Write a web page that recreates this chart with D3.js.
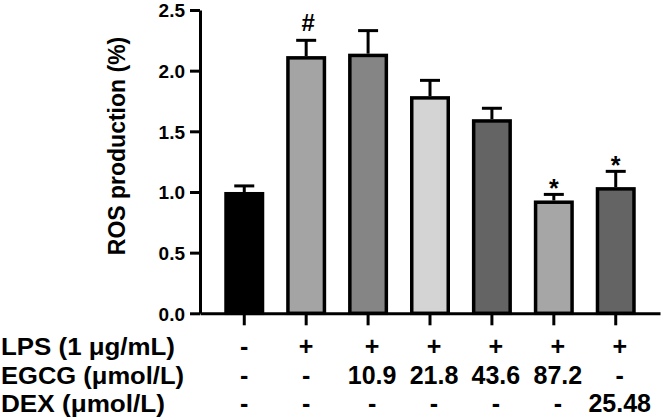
<!DOCTYPE html>
<html><head><meta charset="utf-8">
<script src="https://cdn.jsdelivr.net/npm/d3@7"></script>
<style>
body{margin:0;background:#fff;}
text{font-family:"Liberation Sans",Arial,sans-serif;font-weight:bold;fill:#000;}
</style></head>
<body><svg id="c" width="661" height="420"></svg>
<script>
const groups = ["ctrl","LPS","E10.9","E21.8","E43.6","E87.2","DEX"];
const means = [1.00, 2.12, 2.14, 1.79, 1.60, 0.93, 1.04];
const errors = [0.05, 0.13, 0.19, 0.13, 0.09, 0.05, 0.13];
const fills = ["#000000","#a4a4a4","#858585","#d4d4d4","#646464","#a6a6a6","#646464"];
const marks = ["", "#", "", "", "", "*", "*"];
const yTicks = [0, 0.5, 1.0, 1.5, 2.0, 2.5];
const rowLabels = ["LPS (1 μg/mL)", "EGCG (μmol/L)", "DEX (μmol/L)"];
const rowLPS = ["-","+","+","+","+","+","+"];
const rowEGCG = ["-","-","10.9","21.8","43.6","87.2","-"];
const rowDEX = ["-","-","-","-","-","-","25.48"];

const svg = d3.select("#c");
const x = d3.scaleBand().domain(groups).range([200,660]).paddingInner(0.354).paddingOuter(0.392);
const y = d3.scaleLinear().domain([0,2.5]).range([313.3,10]);
const sw = 3.5;

// bars
svg.selectAll("rect.bar").data(groups).enter().append("rect")
  .attr("x", d=>x(d)+sw/2)
  .attr("y", (d,i)=>y(means[i])+sw/2)
  .attr("width", x.bandwidth()-sw)
  .attr("height", (d,i)=>y(0)-y(means[i])-sw/2)
  .attr("fill",(d,i)=>fills[i]).attr("stroke","#000").attr("stroke-width",sw);

// error bars
groups.forEach((g,i)=>{
  const cx = x(g)+x.bandwidth()/2;
  const top = y(means[i]+errors[i]);
  svg.append("line").attr("x1",cx).attr("x2",cx).attr("y1",y(means[i])).attr("y2",top)
    .attr("stroke","#000").attr("stroke-width",3);
  svg.append("line").attr("x1",cx-10).attr("x2",cx+10).attr("y1",top).attr("y2",top)
    .attr("stroke","#000").attr("stroke-width",3);
  if(marks[i]==="#"){
    svg.append("text").attr("x",cx+2).attr("y",top-9).attr("text-anchor","middle").style("font-size","24px").text("#");
  } else if(marks[i]){
    svg.append("text").attr("x",cx).attr("y",top+3).attr("text-anchor","middle").style("font-size","25px").text(marks[i]);
  }
});

// y axis
const yAxis = d3.axisLeft(y).tickValues(yTicks).tickFormat(d3.format(".1f")).tickSize(10).tickPadding(5).tickSizeOuter(0);
const ga = svg.append("g").attr("transform","translate(200,0)").call(yAxis);
ga.select(".domain").attr("stroke","#000").attr("stroke-width",3);
ga.selectAll(".tick line").attr("stroke","#000").attr("stroke-width",3);
ga.selectAll(".tick text").style("font-size","19px").style("font-family","Liberation Sans, Arial").style("font-weight","bold").attr("dy","0.36em");

// x axis
const xAxis = d3.axisBottom(x).tickSize(12).tickSizeOuter(0).tickFormat("");
const gx = svg.append("g").attr("transform","translate(0,313.3)").call(xAxis);
gx.select(".domain").attr("stroke","#000").attr("stroke-width",3);
gx.selectAll(".tick line").attr("stroke","#000").attr("stroke-width",3);

// y label
svg.append("text").attr("transform","translate(125,146) rotate(-90)").attr("text-anchor","middle")
  .style("font-size","23px").text("ROS production (%)");

// rows
const rows = [rowLPS,rowEGCG,rowDEX];
const rowY = [355, 383.5, 411.7];
const labelLen = [174, 183, 164];
rowLabels.forEach((lab,r)=>{
  svg.append("text").attr("x",1).attr("y",rowY[r]).style("font-size","23px")
    .attr("textLength",labelLen[r]).attr("lengthAdjust","spacingAndGlyphs").text(lab);
  rows[r].forEach((v,i)=>{
    const nudge = i>=2 ? 4 : 0;
    svg.append("text").attr("x",x(groups[i])+x.bandwidth()/2+nudge).attr("y",rowY[r])
      .attr("text-anchor","middle").style("font-size", "25px").text(v);
  });
});
</script></body></html>
